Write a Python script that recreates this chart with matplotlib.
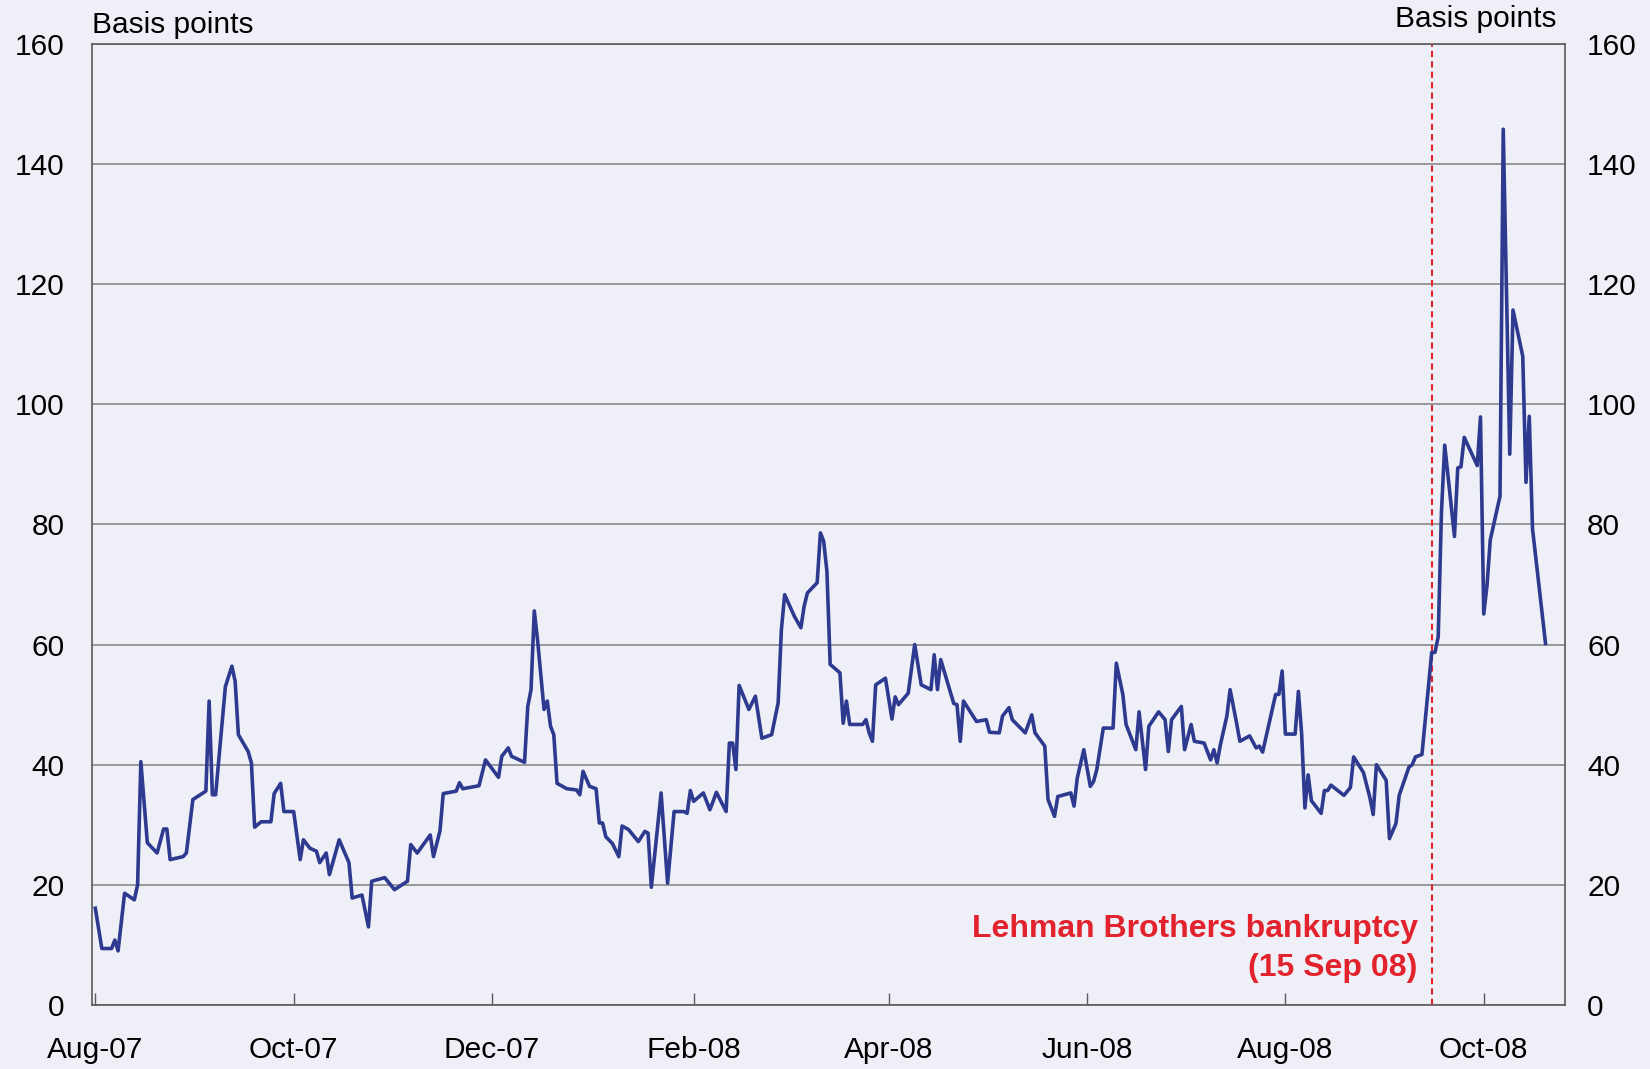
import pandas as pd
import matplotlib
matplotlib.use('Agg')
import matplotlib.pyplot as plt

# daily spread, basis points
dates = [
    '2007-08-01', '2007-08-03', '2007-08-06', '2007-08-07', '2007-08-08', '2007-08-10',
    '2007-08-13', '2007-08-14', '2007-08-15', '2007-08-17', '2007-08-20', '2007-08-22',
    '2007-08-23', '2007-08-24', '2007-08-28', '2007-08-29', '2007-08-31', '2007-09-04',
    '2007-09-05', '2007-09-06', '2007-09-07', '2007-09-10', '2007-09-12', '2007-09-13',
    '2007-09-14', '2007-09-17', '2007-09-18', '2007-09-19', '2007-09-21', '2007-09-24',
    '2007-09-25', '2007-09-27', '2007-09-28', '2007-10-01', '2007-10-03', '2007-10-04',
    '2007-10-06', '2007-10-08', '2007-10-09', '2007-10-11', '2007-10-12', '2007-10-15',
    '2007-10-18', '2007-10-19', '2007-10-22', '2007-10-24', '2007-10-25', '2007-10-29',
    '2007-11-01', '2007-11-05', '2007-11-06', '2007-11-08', '2007-11-12', '2007-11-13',
    '2007-11-15', '2007-11-16', '2007-11-20', '2007-11-21', '2007-11-22', '2007-11-27',
    '2007-11-29', '2007-12-03', '2007-12-04', '2007-12-06', '2007-12-07', '2007-12-11',
    '2007-12-12', '2007-12-13', '2007-12-14', '2007-12-15', '2007-12-17', '2007-12-18',
    '2007-12-19', '2007-12-20', '2007-12-21', '2007-12-24', '2007-12-27', '2007-12-28',
    '2007-12-29', '2007-12-31', '2008-01-02', '2008-01-03', '2008-01-04', '2008-01-05',
    '2008-01-07', '2008-01-09', '2008-01-10', '2008-01-12', '2008-01-15', '2008-01-17',
    '2008-01-18', '2008-01-19', '2008-01-22', '2008-01-24', '2008-01-26', '2008-01-29',
    '2008-01-30', '2008-01-31', '2008-02-01', '2008-02-04', '2008-02-06', '2008-02-07',
    '2008-02-08', '2008-02-11', '2008-02-12', '2008-02-13', '2008-02-14', '2008-02-15',
    '2008-02-18', '2008-02-20', '2008-02-22', '2008-02-25', '2008-02-27', '2008-02-28',
    '2008-02-29', '2008-03-03', '2008-03-05', '2008-03-06', '2008-03-07', '2008-03-10',
    '2008-03-11', '2008-03-12', '2008-03-13', '2008-03-14', '2008-03-17', '2008-03-18',
    '2008-03-19', '2008-03-20', '2008-03-24', '2008-03-25', '2008-03-26', '2008-03-27',
    '2008-03-28', '2008-03-31', '2008-04-02', '2008-04-03', '2008-04-04', '2008-04-07',
    '2008-04-09', '2008-04-11', '2008-04-14', '2008-04-15', '2008-04-16', '2008-04-17',
    '2008-04-21', '2008-04-22', '2008-04-23', '2008-04-24', '2008-04-28', '2008-05-01',
    '2008-05-02', '2008-05-05', '2008-05-06', '2008-05-08', '2008-05-09', '2008-05-13',
    '2008-05-15', '2008-05-16', '2008-05-19', '2008-05-20', '2008-05-22', '2008-05-23',
    '2008-05-27', '2008-05-28', '2008-05-29', '2008-05-31', '2008-06-02', '2008-06-03',
    '2008-06-04', '2008-06-06', '2008-06-09', '2008-06-10', '2008-06-12', '2008-06-13',
    '2008-06-16', '2008-06-17', '2008-06-19', '2008-06-20', '2008-06-23', '2008-06-25',
    '2008-06-26', '2008-06-27', '2008-06-30', '2008-07-01', '2008-07-03', '2008-07-04',
    '2008-07-07', '2008-07-09', '2008-07-10', '2008-07-11', '2008-07-12', '2008-07-14',
    '2008-07-15', '2008-07-17', '2008-07-18', '2008-07-21', '2008-07-23', '2008-07-24',
    '2008-07-25', '2008-07-27', '2008-07-29', '2008-07-30', '2008-07-31', '2008-08-01',
    '2008-08-04', '2008-08-05', '2008-08-06', '2008-08-07', '2008-08-08', '2008-08-09',
    '2008-08-12', '2008-08-13', '2008-08-14', '2008-08-15', '2008-08-19', '2008-08-21',
    '2008-08-22', '2008-08-25', '2008-08-27', '2008-08-28', '2008-08-29', '2008-09-01',
    '2008-09-02', '2008-09-04', '2008-09-05', '2008-09-08', '2008-09-09', '2008-09-10',
    '2008-09-12', '2008-09-15', '2008-09-16', '2008-09-17', '2008-09-18', '2008-09-19',
    '2008-09-22', '2008-09-23', '2008-09-24', '2008-09-25', '2008-09-29', '2008-09-30',
    '2008-10-01', '2008-10-02', '2008-10-03', '2008-10-06', '2008-10-07', '2008-10-09',
    '2008-10-10', '2008-10-13', '2008-10-14', '2008-10-15', '2008-10-16', '2008-10-20',
]
spread = [
    16.1, 9.4, 9.4, 10.8, 9.0, 18.6,
    17.5, 20.0, 40.5, 27.0, 25.3, 29.3,
    29.3, 24.2, 24.7, 25.3, 34.2, 35.6,
    50.6, 35.0, 35.0, 53.0, 56.4, 53.9,
    45.0, 42.2, 40.3, 29.6, 30.5, 30.5,
    35.2, 36.9, 32.2, 32.2, 24.2, 27.5,
    26.1, 25.6, 23.7, 25.3, 21.7, 27.5,
    23.7, 17.8, 18.3, 13.0, 20.6, 21.2,
    19.2, 20.6, 26.7, 25.3, 28.3, 24.7,
    29.0, 35.2, 35.6, 37.0, 36.0, 36.5,
    40.8, 37.9, 41.4, 42.8, 41.4, 40.4,
    49.7, 52.5, 65.6, 60.8, 49.2, 50.6,
    46.4, 45.0, 36.9, 36.0, 35.8, 35.0,
    38.9, 36.4, 36.0, 30.3, 30.3, 28.0,
    26.9, 24.7, 29.8, 29.2, 27.2, 28.9,
    28.6, 19.6, 35.3, 20.3, 32.2, 32.2,
    31.9, 35.7, 33.9, 35.3, 32.5, 33.9,
    35.4, 32.2, 43.6, 43.6, 39.2, 53.2,
    49.2, 51.4, 44.4, 45.0, 50.3, 62.5,
    68.3, 64.7, 62.8, 66.4, 68.6, 70.3,
    78.6, 77.2, 72.2, 56.7, 55.3, 46.9,
    50.6, 46.7, 46.7, 47.5, 45.3, 43.9,
    53.3, 54.4, 47.6, 51.3, 50.0, 51.9,
    60.0, 53.3, 52.5, 58.3, 52.5, 57.5,
    50.2, 50.0, 43.9, 50.6, 47.2, 47.5,
    45.4, 45.3, 48.1, 49.5, 47.5, 45.3,
    48.3, 45.3, 43.1, 34.2, 31.4, 34.7,
    35.3, 33.1, 37.8, 42.5, 36.4, 37.2,
    39.2, 46.1, 46.1, 56.9, 51.7, 46.7,
    42.5, 48.8, 39.2, 46.4, 48.8, 47.5,
    42.2, 47.5, 49.7, 42.5, 46.7, 43.9,
    43.6, 40.8, 42.5, 40.3, 43.3, 48.1,
    52.5, 46.9, 43.9, 44.8, 42.8, 43.1,
    42.1, 46.9, 51.7, 51.7, 55.6, 45.1,
    45.1, 52.2, 45.1, 32.8, 38.3, 34.0,
    31.9, 35.7, 35.7, 36.6, 34.9, 36.2,
    41.3, 38.7, 34.5, 31.7, 40.0, 37.4,
    27.7, 30.2, 34.9, 39.6, 40.0, 41.3,
    41.7, 58.7, 58.7, 61.3, 82.1, 93.2,
    78.0, 89.4, 89.6, 94.5, 89.8, 97.9,
    65.1, 69.8, 77.4, 84.7, 145.8, 91.7,
    115.7, 108.0, 87.0, 98.0, 79.3, 60.2,
]

tick_dates = ['2007-08-01', '2007-10-01', '2007-12-01', '2008-02-01',
              '2008-04-01', '2008-06-01', '2008-08-01', '2008-10-01']
tick_labels = ['Aug-07', 'Oct-07', 'Dec-07', 'Feb-08',
               'Apr-08', 'Jun-08', 'Aug-08', 'Oct-08']
y_ticks = [0, 20, 40, 60, 80, 100, 120, 140, 160]
event_date = '2008-09-15'
event_label = 'Lehman Brothers bankruptcy\n(15 Sep 08)'
unit = 'Basis points'

plt.rcParams['font.family'] = ['Liberation Sans', 'DejaVu Sans']

bg = '#eff0f7'
red = '#e2232e'
grey = '#5a5a5a'
fs = 21.5

fig = plt.figure(figsize=(16.5, 10.69), dpi=100, facecolor=bg)
ax = fig.add_axes([0.0558, 0.0599, 0.8927, 0.8990])
ax.set_facecolor(bg)

x = pd.to_datetime(dates)
ax.plot(x, spread, color='#2e3a8f', lw=2.6, zorder=3)

ax.set_xlim(pd.Timestamp('2007-07-31'), pd.Timestamp('2008-10-26'))
ax.set_ylim(0, 160)
ax.set_yticks(y_ticks)
ax.yaxis.grid(True, color='#808080', lw=1.1)
ax.set_axisbelow(True)
ax.tick_params(axis='y', length=0, labelsize=fs, pad=20)

ax.set_xticks(pd.to_datetime(tick_dates))
ax.set_xticklabels(tick_labels)
ax.tick_params(axis='x', direction='in', length=9, width=1, color=grey,
               labelsize=fs, pad=22)

for s in ax.spines.values():
    s.set_color(grey)
    s.set_linewidth(1.2)

# right-hand axis labels
ax_r = ax.twinx()
ax_r.set_ylim(0, 160)
ax_r.set_yticks(y_ticks)
ax_r.tick_params(axis='y', length=0, labelsize=fs, pad=16)
for s in ax_r.spines.values():
    s.set_visible(False)

ev = pd.Timestamp(event_date)
ax.axvline(ev, color=red, lw=1.5, dashes=(3, 2), zorder=2)
ax.annotate(event_label, xy=(ev, 0), xytext=(-10, 16), textcoords='offset points',
            ha='right', va='bottom', multialignment='right', linespacing=1.4,
            color=red, fontsize=23, fontweight='bold')

fig.text(0.0558, 0.969, unit, ha='left', va='baseline', fontsize=fs)
fig.text(0.9436, 0.9747, unit, ha='right', va='baseline', fontsize=fs)

fig.savefig('out.png', dpi=100, facecolor=bg)
